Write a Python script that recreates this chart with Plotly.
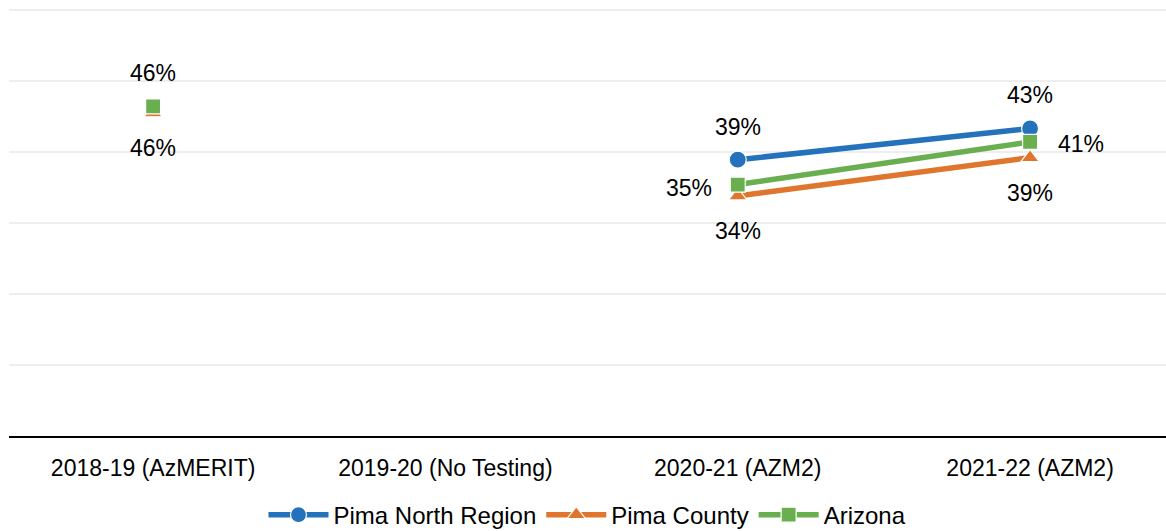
import plotly.graph_objects as go

years = ["2018-19 (AzMERIT)", "2019-20 (No Testing)", "2020-21 (AZM2)", "2021-22 (AZM2)"]
pima_north = [None, None, 38.9, 43.3]
pima_county = [45.5, None, 33.8, 39.2]
arizona = [46.4, None, 35.4, 41.4]

FONT = "Liberation Sans, Arial, sans-serif"

# label placement per point: (x shift, y shift) in px relative to the marker
ABOVE = (0, 33)
BELOW = (0, -35)
LEFT = (-49, -3)
RIGHT = (51, -2)

series = [
    dict(name="Pima North Region", y=pima_north, color="#2472BB", symbol="circle", size=17,
         pos=[ABOVE, ABOVE, ABOVE, ABOVE]),
    dict(name="Pima County", y=pima_county, color="#E0762E", symbol="triangle-up", size=16,
         pos=[BELOW, BELOW, BELOW, BELOW]),
    dict(name="Arizona", y=arizona, color="#6AAF4F", symbol="square", size=15,
         pos=[ABOVE, ABOVE, LEFT, RIGHT]),
]

fig = go.Figure()
for s in series:
    fig.add_trace(go.Scatter(
        x=years, y=s["y"], name=s["name"],
        mode="lines+markers",
        line=dict(color=s["color"], width=5.5),
        marker=dict(symbol=s["symbol"], size=s["size"], color=s["color"],
                    line=dict(color="white", width=1.2)),
        connectgaps=False, cliponaxis=False,
    ))
    # value labels
    for xv, yv, (dx, dy) in zip(years, s["y"], s["pos"]):
        if yv is None:
            continue
        fig.add_annotation(
            x=xv, y=yv, xref="x", yref="y", text=f"{round(yv)}%",
            showarrow=False, xshift=dx, yshift=dy,
            font=dict(family=FONT, size=23, color="#000000"),
        )

fig.update_layout(
    width=1166, height=531,
    margin=dict(l=9, r=0, t=7, b=95, autoexpand=False),
    paper_bgcolor="white", plot_bgcolor="white",
    font=dict(family=FONT, size=23, color="#000000"),
    showlegend=True,
    legend=dict(orientation="h", x=0.5, xanchor="center", yref="container",
                y=0.03, yanchor="middle",
                font=dict(family=FONT, size=24), itemwidth=60, tracegroupgap=0),
    xaxis=dict(type="category", range=[-0.493, 3.465], showgrid=False,
               showline=True, linecolor="#000000", linewidth=2,
               ticks="", tickfont=dict(family=FONT, size=23), ticklabelstandoff=10),
    yaxis=dict(range=[0, 60.4], dtick=10, showgrid=True, gridcolor="#EEEEEE", gridwidth=2,
               showticklabels=False, zeroline=False, showline=False),
)

fig.write_html("out.html")
